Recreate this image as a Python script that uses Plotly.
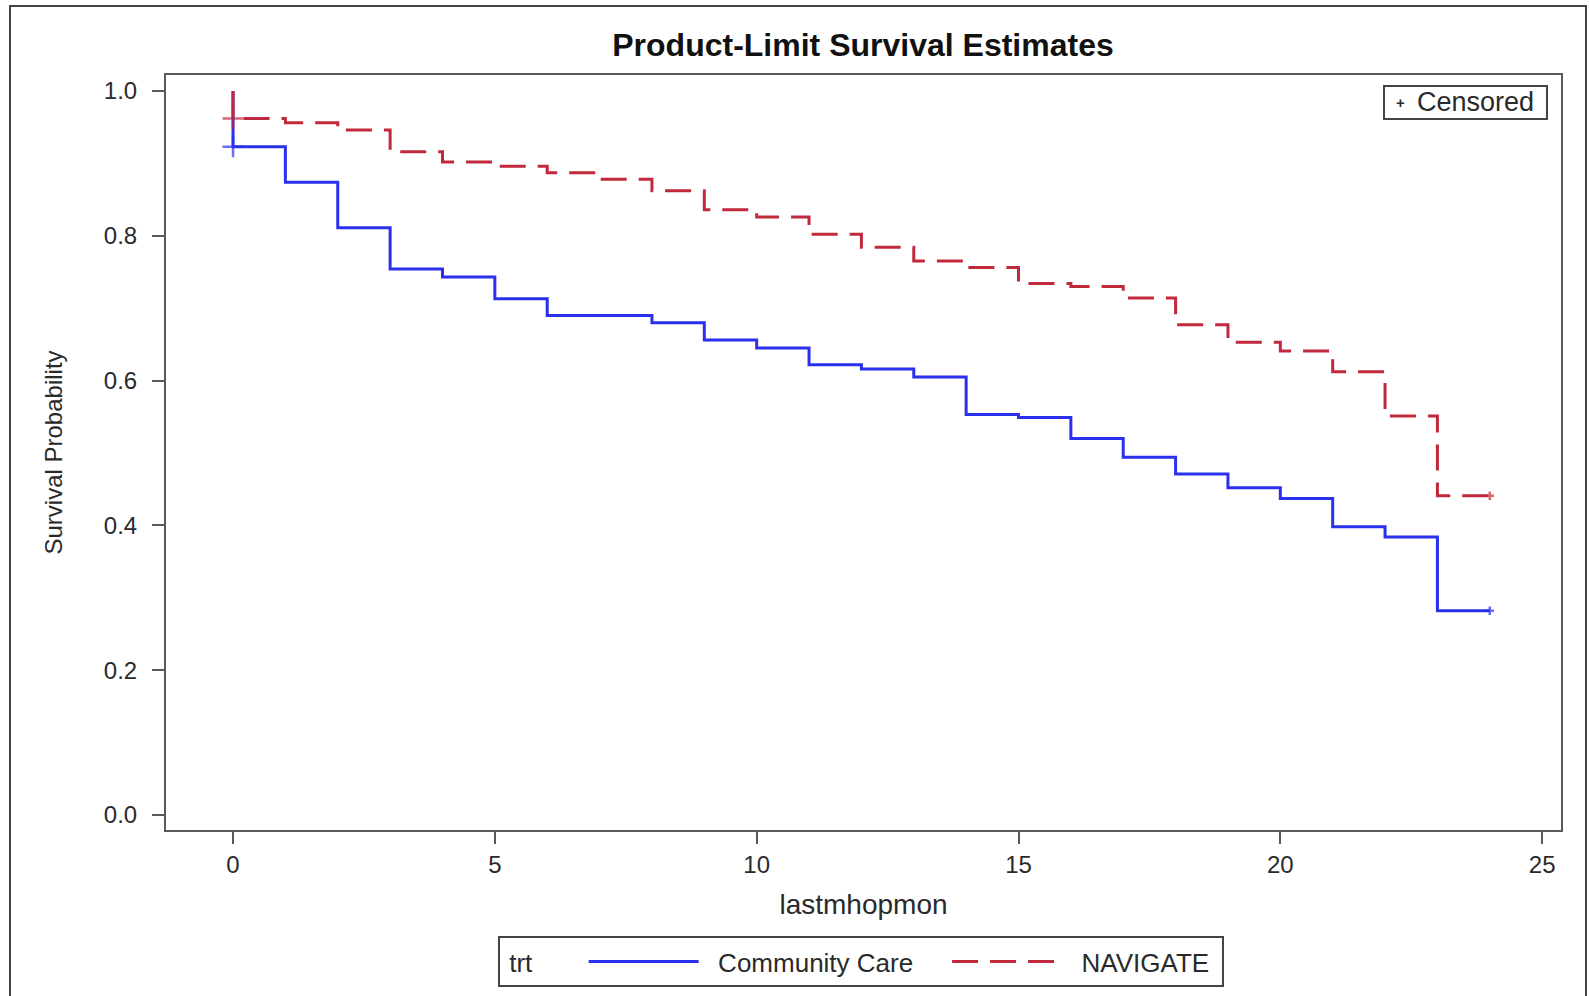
import plotly.graph_objects as go

# ---- data ----
months = list(range(0, 25))
cc_surv = [0.923, 0.874, 0.811, 0.754, 0.743, 0.713, 0.690, 0.690, 0.680, 0.656,
           0.645, 0.622, 0.616, 0.605, 0.553, 0.549, 0.520, 0.494, 0.471, 0.452,
           0.437, 0.398, 0.384, 0.282, 0.282]
nav_surv = [0.962, 0.956, 0.946, 0.916, 0.902, 0.896, 0.887, 0.878, 0.862, 0.836,
            0.826, 0.802, 0.784, 0.765, 0.756, 0.734, 0.730, 0.714, 0.677, 0.653,
            0.641, 0.612, 0.551, 0.441, 0.441]
cens_time = [0, 24]
cc_cens = [0.923, 0.282]
nav_cens = [0.962, 0.441]
x_ticks = [0, 5, 10, 15, 20, 25]
y_ticks = [0.0, 0.2, 0.4, 0.6, 0.8, 1.0]

BLUE = "#2b30ee"
RED = "#c0283c"
FONT = "Liberation Sans, Arial, sans-serif"
W, H = 1589, 996
L, R, T, B = 166, 1561, 75, 830
NB = "\u00a0"


def px(xp):
    return (xp - L) / (R - L)


def py(yp):
    return (B - yp) / (B - T)


fig = go.Figure()
fig.add_trace(go.Scatter(
    x=[0] + months, y=[1.0] + cc_surv, mode="lines", line_shape="hv",
    line=dict(color=BLUE, width=3), name=NB * 2 + "Community Care" + NB * 4))
fig.add_trace(go.Scatter(
    x=[0] + months, y=[1.0] + nav_surv, mode="lines", line_shape="hv",
    line=dict(color=RED, width=3, dash="26px,12px"), name=NB * 2 + "NAVIGATE" + NB))
fig.add_trace(go.Scatter(
    x=cens_time, y=cc_cens, mode="markers", showlegend=False, name="Censored",
    marker=dict(symbol="cross-thin", size=[15, 6], line=dict(color=BLUE, width=2.5))))
fig.add_trace(go.Scatter(
    x=cens_time, y=nav_cens, mode="markers", showlegend=False, name="Censored",
    marker=dict(symbol="cross-thin", size=[15, 6], line=dict(color=RED, width=2.5))))

axis_common = dict(showline=True, linecolor="#5a5a5a", linewidth=2, mirror=True,
                   ticks="outside", ticklen=12, tickwidth=2, tickcolor="#5a5a5a",
                   showgrid=False, zeroline=False, automargin=False,
                   tickfont=dict(family=FONT, size=24, color="#2a2a2a"))

fig.update_layout(
    width=W, height=H,
    margin=dict(l=L, r=W - R, t=T, b=H - B, autoexpand=False),
    paper_bgcolor="white", plot_bgcolor="white",
    title=dict(text="<b>Product-Limit Survival Estimates</b>", x=px(863), xref="paper",
               xanchor="center", y=1 - 45 / H, yanchor="middle",
               font=dict(family=FONT, size=32, color="#111")),
    xaxis=dict(range=[-1.28, 25.36], tickvals=x_ticks, ticklabelstandoff=0,
               title=dict(text="lastmhopmon", standoff=18,
                          font=dict(family=FONT, size=28, color="#2a2a2a")),
               **axis_common),
    yaxis=dict(range=[-0.0207, 1.022], tickvals=y_ticks, tickformat=".1f",
               ticklabelstandoff=10,
               title=dict(text="Survival Probability", standoff=34,
                          font=dict(family=FONT, size=24, color="#2a2a2a")),
               **axis_common),
    legend=dict(orientation="h", x=px(861), xanchor="center", y=py(936), yanchor="top",
                bordercolor="#444", borderwidth=2, bgcolor="white",
                title=dict(text=NB + "trt" + NB * 6, side="left",
                           font=dict(family=FONT, size=26, color="#2a2a2a")),
                font=dict(family=FONT, size=26, color="#2a2a2a"),
                itemwidth=110, tracegroupgap=0),
    shapes=[
        dict(type="rect", xref="paper", yref="paper",
             x0=px(10), x1=px(1586), y0=py(1010), y1=py(6),
             line=dict(color="#444", width=2), fillcolor="rgba(0,0,0,0)", layer="below"),
        dict(type="rect", xref="paper", yref="paper",
             x0=px(1384), x1=px(1547), y0=py(119), y1=py(86),
             line=dict(color="#444", width=2), fillcolor="white", layer="above"),
    ],
    annotations=[
        dict(text="<b>+</b>", xref="paper", yref="paper", x=px(1400), y=py(102.5),
             xanchor="center", yanchor="middle", showarrow=False,
             font=dict(family=FONT, size=15, color="#2a2a2a")),
        dict(text="Censored", xref="paper", yref="paper", x=px(1415), y=py(102.5),
             xanchor="left", yanchor="middle", showarrow=False,
             font=dict(family=FONT, size=27, color="#2a2a2a")),
    ],
    showlegend=True,
)

fig.write_html("out.html")
